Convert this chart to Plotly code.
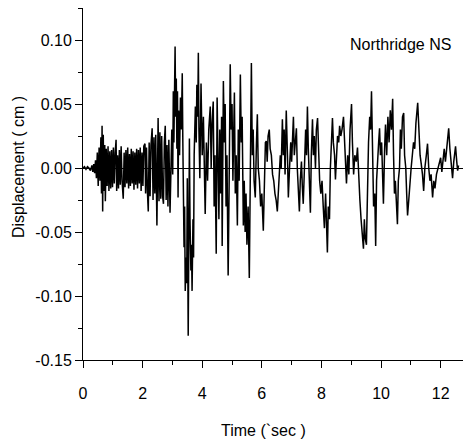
import plotly.graph_objects as go

# Time (s) and displacement (cm)
time_s = [
    0.00, 0.05, 0.10, 0.15, 0.20, 0.25, 0.30, 0.33, 0.36, 0.39, 0.42,
    0.45, 0.48, 0.51, 0.54, 0.57, 0.60, 0.62, 0.64, 0.66, 0.68, 0.70, 0.73, 0.75, 0.78,
    0.81, 0.84, 0.87, 0.90, 0.93, 0.96, 0.99, 1.02, 1.05, 1.08, 1.11, 1.13, 1.16, 1.19,
    1.22, 1.25, 1.28, 1.31, 1.35, 1.38, 1.41, 1.44, 1.47, 1.50, 1.53, 1.56, 1.59, 1.62,
    1.65, 1.68, 1.71, 1.74, 1.77, 1.80, 1.83, 1.86, 1.89, 1.92, 1.95, 1.98, 2.01, 2.04,
    2.08, 2.10, 2.13, 2.16, 2.19, 2.22, 2.25, 2.28, 2.32, 2.35, 2.38, 2.41, 2.44, 2.48,
    2.50, 2.52, 2.55, 2.58, 2.61, 2.64, 2.67, 2.70, 2.73, 2.76, 2.79, 2.82, 2.85, 2.88,
    2.92, 2.95,
    2.98, 3.01, 3.03, 3.05, 3.07, 3.09, 3.11, 3.13, 3.15, 3.17, 3.19, 3.21, 3.24, 3.27,
    3.30, 3.33, 3.35, 3.37, 3.39, 3.41, 3.43, 3.46, 3.48, 3.50, 3.53, 3.55, 3.57, 3.59,
    3.62, 3.64, 3.66, 3.69, 3.71, 3.73, 3.75, 3.77, 3.80, 3.82, 3.85, 3.87, 3.89, 3.92,
    3.96, 4.00, 4.04,
    4.10, 4.14, 4.18, 4.22, 4.27, 4.30, 4.33, 4.37, 4.40, 4.43, 4.47, 4.50, 4.53, 4.56,
    4.59, 4.62, 4.65, 4.67, 4.71, 4.74, 4.77, 4.80, 4.83, 4.87, 4.90, 4.94, 4.97, 5.00,
    5.03, 5.06, 5.08, 5.11, 5.14, 5.18, 5.21, 5.24, 5.28, 5.31, 5.34, 5.38, 5.41, 5.44,
    5.47, 5.50, 5.54, 5.58, 5.61, 5.65, 5.68, 5.71, 5.74, 5.78, 5.82, 5.85, 5.88, 5.92,
    5.96, 6.00, 6.05, 6.09, 6.12,
    6.15, 6.18, 6.21, 6.25, 6.28, 6.32, 6.36, 6.40, 6.44, 6.48, 6.52, 6.55, 6.58, 6.62,
    6.65, 6.69, 6.72, 6.75, 6.78, 6.82, 6.86, 6.89, 6.93, 6.97, 7.00, 7.03, 7.06, 7.09,
    7.13, 7.16, 7.19, 7.22, 7.26, 7.29, 7.33, 7.36, 7.39, 7.43, 7.47, 7.50, 7.53, 7.56,
    7.60, 7.63, 7.66, 7.70, 7.73, 7.76, 7.80, 7.83, 7.87, 7.90, 7.94, 7.98, 8.02, 8.06,
    8.10, 8.14,
    8.17, 8.20, 8.23, 8.27, 8.30, 8.34, 8.37, 8.40, 8.44, 8.47, 8.50, 8.54, 8.58, 8.61,
    8.65, 8.69, 8.74, 8.77, 8.81, 8.84, 8.88, 8.92, 8.96, 9.01, 9.04, 9.08, 9.12, 9.17,
    9.21, 9.25, 9.29, 9.33, 9.37, 9.41, 9.44, 9.47, 9.51, 9.54, 9.58, 9.62, 9.65, 9.68,
    9.71, 9.75, 9.79, 9.82, 9.85, 9.88, 9.92, 9.95, 9.98, 10.02, 10.08, 10.12, 10.15,
    10.19, 10.23, 10.27, 10.31, 10.35, 10.39, 10.42, 10.45, 10.48, 10.52, 10.55, 10.58,
    10.62, 10.65, 10.68, 10.72, 10.76, 10.79, 10.83, 10.86, 10.89, 10.93, 10.97, 11.01,
    11.05, 11.09, 11.13, 11.17, 11.23, 11.27, 11.31, 11.35, 11.39, 11.43, 11.47, 11.52,
    11.56, 11.60, 11.64, 11.68, 11.73, 11.77, 11.81, 11.86, 11.91, 11.96, 12.00, 12.04,
    12.08, 12.12, 12.16, 12.21, 12.27, 12.31, 12.36, 12.40, 12.44, 12.50, 12.54, 12.57,
    12.60,
]

displacement_cm = [
    0.000, 0.001, -0.001, 0.001, 0.000, -0.002, 0.002, -0.003, 0.003, -0.004, 0.006,
    -0.008, 0.012, -0.014, 0.016, -0.010, 0.024, -0.020, 0.033, -0.034, 0.026, -0.018, 0.018, -0.026, 0.015,
    -0.014, 0.017, -0.018, 0.013, -0.016, 0.014, -0.015, 0.016, -0.012, 0.012, 0.022, -0.018, 0.010, -0.016,
    0.014, -0.013, 0.017, -0.010, -0.024, 0.012, -0.015, 0.014, -0.012, 0.016, -0.016, 0.011, -0.014, 0.015,
    -0.012, 0.013, -0.017, 0.012, -0.013, 0.015, -0.016, 0.014, -0.012, 0.016, -0.018, 0.012, -0.014, 0.017,
    0.019, -0.020, 0.016, -0.018, -0.034, 0.020, -0.022, 0.018, 0.031, -0.025, 0.024, -0.020, 0.026, -0.045,
    0.022, 0.039, -0.026, 0.028, -0.024, 0.025, -0.022, -0.028, 0.020, 0.033, -0.025, 0.018, -0.030, 0.022,
    -0.035, 0.010,
    0.030, -0.005, 0.060, 0.020, 0.085, 0.095, 0.040, 0.070, 0.015, 0.060, -0.023, 0.045, 0.010, 0.055,
    0.030, 0.074, 0.020, -0.040, -0.062, -0.030, -0.096, -0.070, -0.090, -0.008, -0.131, -0.060, 0.023, -0.040,
    -0.080, -0.060, -0.096, -0.040, -0.070, 0.010, 0.030, 0.048, 0.020, 0.065, 0.040, 0.090, 0.030, -0.008,
    0.066, 0.010, 0.040,
    -0.036, 0.020, -0.010, 0.030, 0.048, 0.000, 0.035, 0.052, -0.030, 0.010, -0.067, 0.055, 0.000, -0.040,
    0.030, -0.020, 0.040, -0.061, 0.068, 0.020, 0.050, -0.030, 0.010, -0.084, -0.020, 0.081, 0.030, 0.050,
    -0.010, 0.040, 0.059, -0.020, 0.010, -0.045, 0.030, -0.010, 0.073, 0.020, 0.040, -0.045, -0.010, -0.050,
    -0.020, -0.060, -0.030, -0.086, 0.000, 0.082, 0.010, 0.030, -0.010, -0.023, 0.020, 0.042, 0.000, -0.010,
    -0.030, -0.020, -0.049, 0.000, 0.020,
    0.021, 0.005, 0.025, 0.030, 0.015, 0.010, -0.005, -0.010, -0.020, -0.025, -0.034, -0.020, -0.010, 0.010,
    0.000, 0.038, 0.010, 0.030, -0.005, 0.045, 0.010, -0.023, 0.000, 0.020, 0.005, 0.030, 0.040, 0.010,
    0.025, 0.031, 0.000, -0.015, -0.034, -0.010, 0.005, -0.015, -0.028, 0.000, 0.030, 0.010, 0.048, 0.015,
    -0.010, -0.035, 0.010, 0.038, 0.010, 0.025, 0.000, 0.030, 0.039, 0.010, -0.010, -0.020, -0.010, -0.030,
    -0.047, -0.020,
    -0.050, -0.066, -0.030, -0.040, 0.000, 0.030, 0.039, 0.020, 0.010, -0.009, 0.010, 0.025, 0.020, 0.033,
    0.025, 0.030, 0.040, 0.020, 0.005, -0.012, 0.010, -0.005, 0.030, 0.050, 0.020, -0.005, 0.010, 0.005,
    0.016, -0.010, -0.025, -0.040, -0.050, -0.063, -0.040, -0.055, -0.060, -0.020, 0.020, 0.040, 0.030, 0.060,
    0.010, -0.030, -0.020, -0.061, -0.010, 0.010, 0.020, 0.031, 0.010, 0.020, -0.028, 0.015, 0.034,
    0.010, 0.040, 0.020, 0.045, 0.030, 0.054, 0.010, -0.020, -0.010, -0.035, -0.044, -0.010,
    0.000, 0.030, 0.015, 0.040, 0.043, 0.010, 0.000, -0.020, -0.037, -0.025, -0.010, 0.000,
    0.010, 0.020, 0.015, 0.035, 0.051, 0.030, 0.010, 0.003, -0.005, -0.018, 0.000, 0.010,
    0.019, 0.000, -0.010, -0.005, -0.023, -0.010, -0.016, -0.005, 0.000, 0.005, 0.008, -0.003,
    0.010, 0.015, 0.005, 0.020, 0.031, 0.015, 0.000, -0.008, 0.005, 0.017, 0.005, -0.002,
    0.002,
]

x_tick_vals = [0, 2, 4, 6, 8, 10, 12]
x_tick_text = ["0", "2", "4", "6", "8", "10", "12"]
y_tick_vals = [0.10, 0.05, 0.00, -0.05, -0.10, -0.15]
y_tick_text = ["0.10", "0.05", "0.00", "-0.05", "-0.10", "-0.15"]

FONT = "Liberation Sans, Arial, Helvetica, sans-serif"

fig = go.Figure()
fig.add_trace(go.Scatter(
    x=time_s, y=displacement_cm, mode="lines",
    line=dict(color="black", width=1.5),
    showlegend=False, hoverinfo="skip",
))

fig.update_layout(
    width=466, height=443,
    margin=dict(l=83, r=3, t=8, b=83),
    paper_bgcolor="white", plot_bgcolor="white",
    font=dict(family=FONT, size=16, color="black"),
    xaxis=dict(
        range=[0, 12.75], tickvals=x_tick_vals, ticktext=x_tick_text,
        ticks="outside", ticklen=7, tickwidth=1, tickcolor="black",
        ticklabelstandoff=12,
        minor=dict(dtick=1, tick0=0, ticks="outside", ticklen=4, tickcolor="black"),
        showline=True, linecolor="black", linewidth=1,
        showgrid=False, zeroline=False,
        tickfont=dict(family=FONT, size=16, color="black"),
    ),
    yaxis=dict(
        range=[-0.15, 0.125], tickvals=y_tick_vals, ticktext=y_tick_text,
        ticks="outside", ticklen=7, tickwidth=1, tickcolor="black",
        minor=dict(dtick=0.025, tick0=0, ticks="outside", ticklen=4, tickcolor="black"),
        showline=True, linecolor="black", linewidth=1,
        showgrid=False, zeroline=True, zerolinecolor="black", zerolinewidth=1,
        tickfont=dict(family=FONT, size=16, color="black"),
    ),
    annotations=[
        dict(text="Northridge NS", xref="paper", yref="paper", x=0.974, y=0.895,
             xanchor="right", yanchor="middle", showarrow=False,
             font=dict(family=FONT, size=16, color="black")),
        dict(text="Time (`sec )", xref="paper", yref="paper", x=0.476, y=-0.2017,
             xanchor="center", yanchor="middle", showarrow=False,
             font=dict(family=FONT, size=16, color="black")),
        dict(text="Displacement ( cm )", xref="paper", yref="paper", x=-0.171, y=0.548,
             xanchor="center", yanchor="middle", textangle=-90, showarrow=False,
             font=dict(family=FONT, size=16, color="black")),
    ],
)

fig.write_html("out.html")
